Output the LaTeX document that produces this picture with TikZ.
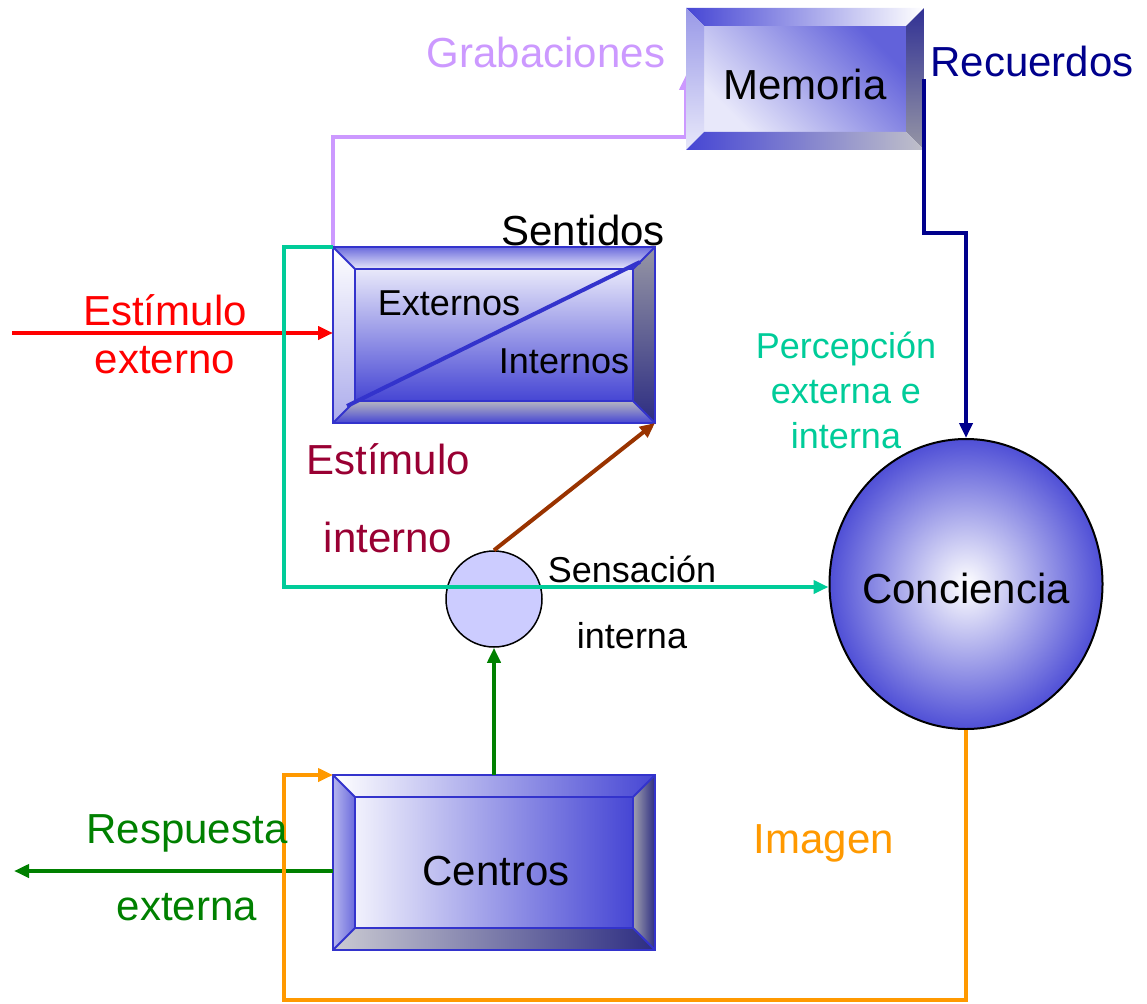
\documentclass[tikz,border=0pt]{standalone}
\usepackage{fontspec}
\setmainfont{Liberation Sans}
\usetikzlibrary{arrows.meta,calc,shapes.geometric}

\definecolor{lavcol}{RGB}{204,153,255}
\definecolor{navycol}{RGB}{0,0,140}
\definecolor{tealcol}{RGB}{0,204,153}
\definecolor{redcol}{RGB}{255,0,0}
\definecolor{marooncol}{RGB}{153,0,51}
\definecolor{browncol}{RGB}{153,51,0}
\definecolor{greencol}{RGB}{0,128,0}
\definecolor{orangecol}{RGB}{255,153,0}
\definecolor{edgeblue}{RGB}{51,51,204}
\definecolor{deepblue}{RGB}{70,70,212}
\definecolor{paleblue}{RGB}{232,232,250}
\definecolor{darkside}{RGB}{45,45,130}
\definecolor{graysid}{RGB}{150,150,165}

\tikzset{every picture/.style={line width=0.75pt}}
\tikzset{
  conn/.style={line width=4pt},
  tip/.style={-{Triangle[length=15pt,width=13pt]}},
  bigtxt/.style={anchor=base,inner sep=0pt,font=\fontsize{42}{50}\selectfont},
  smalltxt/.style={anchor=base,inner sep=0pt,font=\fontsize{36}{43}\selectfont},
  holder/.style={rectangle,inner sep=0pt,outer sep=0pt},
  rim/.style={draw=edgeblue,line width=2pt}
}
% inner corners of a bevelled box
\newcommand{\bevelpts}[2]{%
  \coordinate (#1-a) at ($(#1.north west)+(#2,#2)$);
  \coordinate (#1-b) at ($(#1.north east)+(-#2,#2)$);
  \coordinate (#1-c) at ($(#1.south east)+(-#2,-#2)$);
  \coordinate (#1-d) at ($(#1.south west)+(#2,-#2)$);
}

\begin{document}
\begin{tikzpicture}[x=1pt,y=1pt,yscale=-1,xscale=1]
\useasboundingbox (0,0) rectangle (1147,1003);

% box holders
\node[holder,minimum width=238pt,minimum height=142pt] (memoria) at (805,79) {};
\node[holder,minimum width=322pt,minimum height=176pt] (sentidos) at (494,335) {};
\node[holder,minimum width=322pt,minimum height=175pt] (centros) at (494,862.5) {};
\bevelpts{memoria}{18}
\bevelpts{sentidos}{22}
\bevelpts{centros}{22}

%Grabaciones line (under the Memoria box)
\draw[conn,tip,lavcol] (sentidos.north west) -- (333,137) -- (686,137) -- ($(memoria.west)+(0,-4)$);

%Memoria box
\shade[top color=deepblue!85,bottom color=paleblue,shading angle=-45] (memoria-a) rectangle (memoria-c);
\shade[left color=deepblue,right color=white] (memoria.north west) -- (memoria.north east) -- (memoria-b) -- (memoria-a) -- cycle;
\shade[top color=deepblue!55,bottom color=paleblue] (memoria.north west) -- (memoria-a) -- (memoria-d) -- (memoria.south west) -- cycle;
\shade[top color=deepblue!70!black,bottom color=graysid] (memoria.north east) -- (memoria.south east) -- (memoria-c) -- (memoria-b) -- cycle;
\shade[left color=deepblue,right color=graysid!60] (memoria.south west) -- (memoria-d) -- (memoria-c) -- (memoria.south east) -- cycle;

%Sentidos box
\shade[top color=paleblue,bottom color=deepblue] (sentidos-a) rectangle (sentidos-c);
\shade[top color=deepblue!80,bottom color=paleblue] (sentidos.north west) -- (sentidos.north east) -- (sentidos-b) -- (sentidos-a) -- cycle;
\shade[top color=white,bottom color=deepblue!45] (sentidos.north west) -- (sentidos-a) -- (sentidos-d) -- (sentidos.south west) -- cycle;
\shade[top color=graysid,bottom color=darkside] (sentidos.north east) -- (sentidos.south east) -- (sentidos-c) -- (sentidos-b) -- cycle;
\shade[top color=graysid!70,bottom color=deepblue] (sentidos.south west) -- (sentidos-d) -- (sentidos-c) -- (sentidos.south east) -- cycle;
\draw[rim] (sentidos.north west) rectangle (sentidos.south east);
\draw[rim] (sentidos-a) rectangle (sentidos-c);
\draw[rim] (sentidos.north west) -- (sentidos-a) (sentidos.north east) -- (sentidos-b) (sentidos.south east) -- (sentidos-c) (sentidos.south west) -- (sentidos-d);
\draw[edgeblue,line width=4pt] ($(sentidos-d)+(-8,5)$) -- ($(sentidos-b)+(7,-7)$);

%Centros box
\shade[left color=paleblue!60!white,right color=deepblue] (centros-a) rectangle (centros-c);
\shade[left color=white,right color=deepblue] (centros.north west) -- (centros.north east) -- (centros-b) -- (centros-a) -- cycle;
\shade[left color=deepblue!40,right color=deepblue!80] (centros.north west) -- (centros-a) -- (centros-d) -- (centros.south west) -- cycle;
\shade[left color=graysid!90,right color=darkside] (centros.north east) -- (centros.south east) -- (centros-c) -- (centros-b) -- cycle;
\shade[left color=graysid!50,right color=darkside] (centros.south west) -- (centros-d) -- (centros-c) -- (centros.south east) -- cycle;
\draw[rim] (centros.north west) rectangle (centros.south east);
\draw[rim] (centros-a) rectangle (centros-c);
\draw[rim] (centros.north west) -- (centros-a) (centros.north east) -- (centros-b) (centros.south east) -- (centros-c) (centros.south west) -- (centros-d);

%Conciencia and sensacion
\node[ellipse,draw=black,line width=2pt,inner color=white,outer color=deepblue!95,minimum width=273pt,minimum height=290pt] (conciencia) at (966,584) {};
\node[circle,draw=black,line width=1.5pt,fill={rgb,255:red,204;green,204;blue,255},minimum size=96pt] (sensacion) at (494,599) {};

% connectors
\coordinate (estin) at (12,333);
\coordinate (respout) at (14,871);
\draw[conn,tip,redcol] (estin) -- (sentidos.west |- estin);
\draw[conn,tip,navycol] (memoria.east) -- (924,233) -- (966,233) -- (conciencia.north);
\draw[conn,tip,tealcol] (sentidos.north west) -- (284,247) -- (284,587) -- (conciencia.west |- 0,587);
\draw[conn,tip,browncol] (sensacion.north) -- (sentidos.south east);
\draw[conn,tip,greencol] (centros.north) -- (sensacion.south);
\draw[conn,tip,greencol] (centros.west |- respout) -- (respout);
\draw[conn,tip,orangecol] (conciencia.south) -- (966,1000) -- (284,1000) -- (284,775) -- (centros.north west);

% Text Node
\node[bigtxt,lavcol] (tgrab) at (546,68) {Grabaciones};
\node[bigtxt] (tmem) at (805,100) {Memoria};
\node[bigtxt,navycol] (trec) at (1032,77) {Recuerdos};
\node[bigtxt] (tsent) at (583,245) {Sentidos};
\node[smalltxt] (text) at (449,315) {Externos};
\node[smalltxt] (tint) at (564,373) {Internos};
\node[bigtxt,redcol] (testa) at (165,325) {Estímulo};
\node[bigtxt,redcol] (testb) at (165,373) {externo};
\node[bigtxt,marooncol] (tinta) at (388,474) {Estímulo};
\node[bigtxt,marooncol] (tintb) at (388,552) {interno};
\node[smalltxt] (tsena) at (632,582) {Sensación};
\node[smalltxt] (tsenb) at (632,648) {interna};
\node[smalltxt,tealcol] (tpera) at (846,358) {Percepción};
\node[smalltxt,tealcol] (tperb) at (846,403) {externa e};
\node[smalltxt,tealcol] (tperc) at (846,448) {interna};
\node[bigtxt] (tconc) at (966,603) {Conciencia};
\node[bigtxt] (tcent) at (496,885) {Centros};
\node[bigtxt,greencol] (tresa) at (187,843) {Respuesta};
\node[bigtxt,greencol] (tresb) at (187,920) {externa};
\node[bigtxt,orangecol] (timg) at (824,853) {Imagen};
\end{tikzpicture}
\end{document}
